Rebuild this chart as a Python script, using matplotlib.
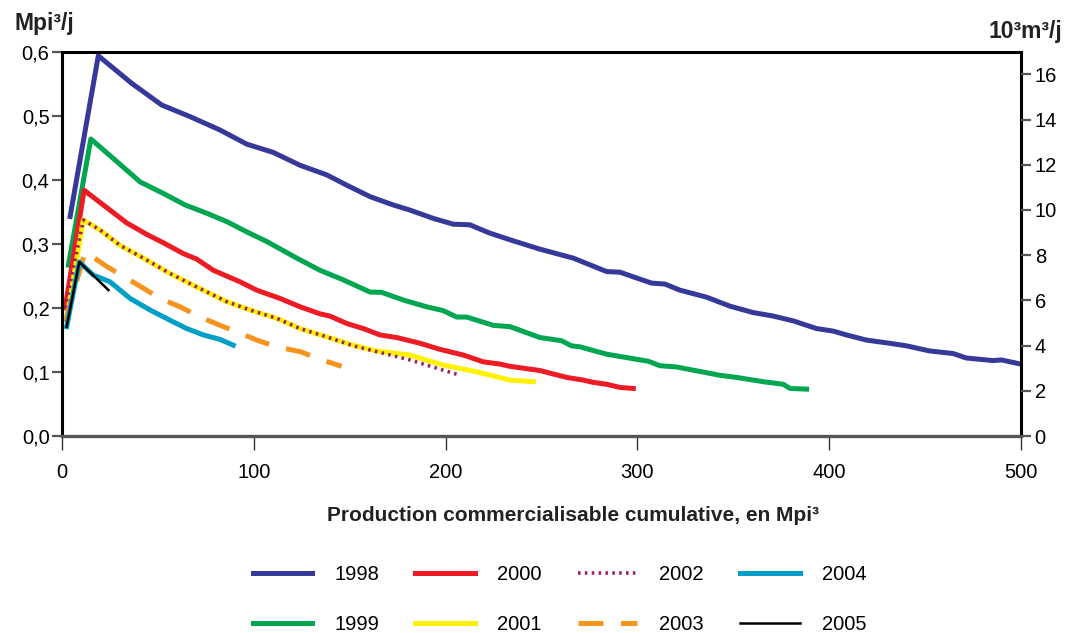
import matplotlib
matplotlib.use("Agg")
import matplotlib.pyplot as plt
from matplotlib.ticker import FixedLocator, FuncFormatter

# ---------------- data ----------------
x1998 = [4.2, 18.9, 36.3, 52, 66.7, 82.4, 96.3, 110.2, 124.1, 138, 148.4, 160.6, 172.7, 181.4,
         193.6, 204, 212.7, 223.1, 235.3, 249.2, 266.6, 284, 291, 299.6, 307.4, 314.4, 322.2,
         336.1, 348.3, 360.4, 370.9, 381.3, 393.5, 402.2, 409.1, 419.5, 431.7, 440.4, 452.5,
         464.7, 471.6, 485.5, 489.9, 500]
y1998 = [0.343, 0.594, 0.551, 0.517, 0.499, 0.478, 0.456, 0.443, 0.423, 0.408, 0.392, 0.374,
         0.361, 0.353, 0.340, 0.331, 0.330, 0.317, 0.305, 0.292, 0.278, 0.257, 0.256, 0.247,
         0.239, 0.2375, 0.228, 0.217, 0.203, 0.193, 0.1875, 0.180, 0.168, 0.164, 0.158, 0.150,
         0.145, 0.141, 0.133, 0.129, 0.122, 0.118, 0.119, 0.1125]

x1999 = [3.3, 15, 27.7, 40.7, 52.8, 64.2, 75.5, 85.9, 96.3, 106.7, 122.4, 134.5, 146.7, 160.6,
         166.7, 178, 190.1, 198.8, 205.8, 211, 224.9, 233.6, 249.2, 260.5, 265.7, 270, 284,
         299.6, 305.7, 311.8, 320.5, 329.2, 343.1, 351.8, 365.7, 376.1, 379.7, 388.3]
y1999 = [0.267, 0.464, 0.431, 0.397, 0.379, 0.361, 0.348, 0.335, 0.319, 0.304, 0.278, 0.259,
         0.244, 0.225, 0.2245, 0.2125, 0.202, 0.196, 0.186, 0.186, 0.173, 0.171, 0.154, 0.149,
         0.141, 0.1395, 0.128, 0.120, 0.117, 0.110, 0.108, 0.103, 0.095, 0.0917, 0.085, 0.081,
         0.0745, 0.0734]

x2000 = [1.6, 11.5, 21.5, 33.7, 44.2, 52.8, 63.3, 70.2, 78.9, 92.8, 101.5, 113.7, 124.1, 134.5,
         139.7, 148.4, 157.1, 165.8, 174.5, 186.7, 197.1, 209.3, 219.7, 228.4, 233.6, 249.2,
         256.2, 263.2, 271.8, 277, 284, 291, 297.9]
y2000 = [0.200, 0.384, 0.361, 0.333, 0.315, 0.302, 0.285, 0.2765, 0.259, 0.241, 0.228, 0.215,
         0.202, 0.191, 0.1875, 0.176, 0.168, 0.158, 0.154, 0.145, 0.1355, 0.1266, 0.116, 0.1125,
         0.109, 0.1025, 0.097, 0.0917, 0.0875, 0.084, 0.081, 0.076, 0.0745]

x2001 = [2.6, 11.1, 19.8, 30.2, 42.4, 56.3, 70.2, 85.9, 98, 111.9, 124.1, 138, 151.9, 164,
         181.4, 198.8, 216.2, 233.6, 245.8]
y2001 = [0.186, 0.3375, 0.322, 0.298, 0.278, 0.254, 0.233, 0.210, 0.197, 0.184, 0.168, 0.155,
         0.142, 0.133, 0.1266, 0.111, 0.1005, 0.0875, 0.085]

x2002 = [1.6, 11.1, 19.8, 30.2, 42.4, 56.3, 70.2, 85.9, 98, 111.9, 124.1, 138, 151.9, 164,
         181.4, 198.8, 207.7]
y2002 = [0.200, 0.3375, 0.322, 0.298, 0.278, 0.254, 0.233, 0.210, 0.197, 0.184, 0.168, 0.155,
         0.141, 0.132, 0.119, 0.103, 0.095]

x2003 = [1.6, 12, 23.3, 42.4, 51.1, 61.5, 72, 82.4, 92.8, 101.5, 111.9, 124.1, 134.5, 145.8]
y2003 = [0.178, 0.288, 0.265, 0.231, 0.215, 0.202, 0.186, 0.173, 0.161, 0.150, 0.1395, 0.132,
         0.120, 0.109]

x2004 = [2.4, 9, 16.3, 25, 35.5, 45.9, 56.3, 65, 73.7, 82.4, 89.3]
y2004 = [0.171, 0.272, 0.2515, 0.241, 0.215, 0.197, 0.181, 0.168, 0.158, 0.151, 0.142]

x2005 = [2.4, 9, 24.2]
y2005 = [0.171, 0.272, 0.228]

years = ["1998", "1999", "2000", "2001", "2002", "2003", "2004", "2005"]
xticks = [0, 100, 200, 300, 400, 500]
yticks = [0.0, 0.1, 0.2, 0.3, 0.4, 0.5, 0.6]
rticks = [0, 2, 4, 6, 8, 10, 12, 14, 16]
MPI3_TO_KM3 = 28.3168  # 1 Mpi³ = 28.3168 10³m³

# ---------------- style ----------------
plt.rcParams['font.family'] = ['Liberation Sans', 'DejaVu Sans']

c_blue = "#36399a"
c_green = "#00a650"
c_red = "#ed1c24"
c_yellow = "#fff200"
c_purple = "#9e1f63"
c_orange = "#f7941d"
c_cyan = "#00a0c6"
c_black = "#000000"

fig = plt.figure(figsize=(10.70, 6.33), dpi=100)
ax = fig.add_axes([0.058, 0.311, 0.896, 0.607])

lw = 3.6
ax.plot(x1998, y1998, color=c_blue, lw=lw, label=years[0])
ax.plot(x1999, y1999, color=c_green, lw=lw, label=years[1])
ax.plot(x2000, y2000, color=c_red, lw=lw, label=years[2])
ax.plot(x2001, y2001, color=c_yellow, lw=lw, label=years[3])
ax.plot(x2002, y2002, color=c_purple, lw=2.6, linestyle=(0, (0.7, 1.2)), label=years[4])
ax.plot(x2003, y2003, color=c_orange, lw=lw, linestyle=(0, (5, 3.5)), label=years[5])
ax.plot(x2004, y2004, color=c_cyan, lw=lw, label=years[6])
ax.plot(x2005, y2005, color=c_black, lw=1.8, label=years[7])

ax.set_xlim(0, 500)
ax.set_ylim(0, 0.6)
ax.xaxis.set_major_locator(FixedLocator(xticks))
ax.yaxis.set_major_locator(FixedLocator(yticks))
ax.yaxis.set_major_formatter(FuncFormatter(lambda v, p: f"{v:.1f}".replace(".", ",")))

for s in ["left", "top", "right"]:
    ax.spines[s].set_color("black")
    ax.spines[s].set_linewidth(2.2)
ax.spines["bottom"].set_color("#555555")
ax.spines["bottom"].set_linewidth(2.4)

ax.tick_params(axis='x', direction='out', length=10, width=1.0, color='#333333',
               labelsize=14.5, pad=9)
ax.tick_params(axis='y', direction='out', length=7, width=1.6, color='#555555',
               labelsize=14.5, pad=2)

ax2 = ax.twinx()
ax2.set_ylim(0, 0.6 * MPI3_TO_KM3)
ax2.yaxis.set_major_locator(FixedLocator(rticks))
ax2.tick_params(axis='y', direction='out', length=7, width=1.6, color='#555555',
                labelsize=14.5, pad=3)
for s in ax2.spines.values():
    s.set_visible(False)

fig.text(0.014, 0.963, "Mpi³/j", fontsize=16.5, fontweight='bold', color='#222222',
         ha='left', va='center')
fig.text(0.993, 0.951, "10³m³/j", fontsize=16.5, fontweight='bold', color='#222222',
         ha='right', va='center')
fig.text(0.536, 0.186, "Production commercialisable cumulative, en Mpi³", fontsize=15,
         fontweight='bold', color='#222222', ha='center', va='center')

handles, labels = ax.get_legend_handles_labels()
leg = fig.legend(handles, labels, loc='center', bbox_to_anchor=(0.523, 0.053), ncol=4,
                 frameon=False, fontsize=14.5, handlelength=2.95, handletextpad=1.1,
                 columnspacing=1.8, labelspacing=1.5)

fig.savefig("out.png", dpi=100)
